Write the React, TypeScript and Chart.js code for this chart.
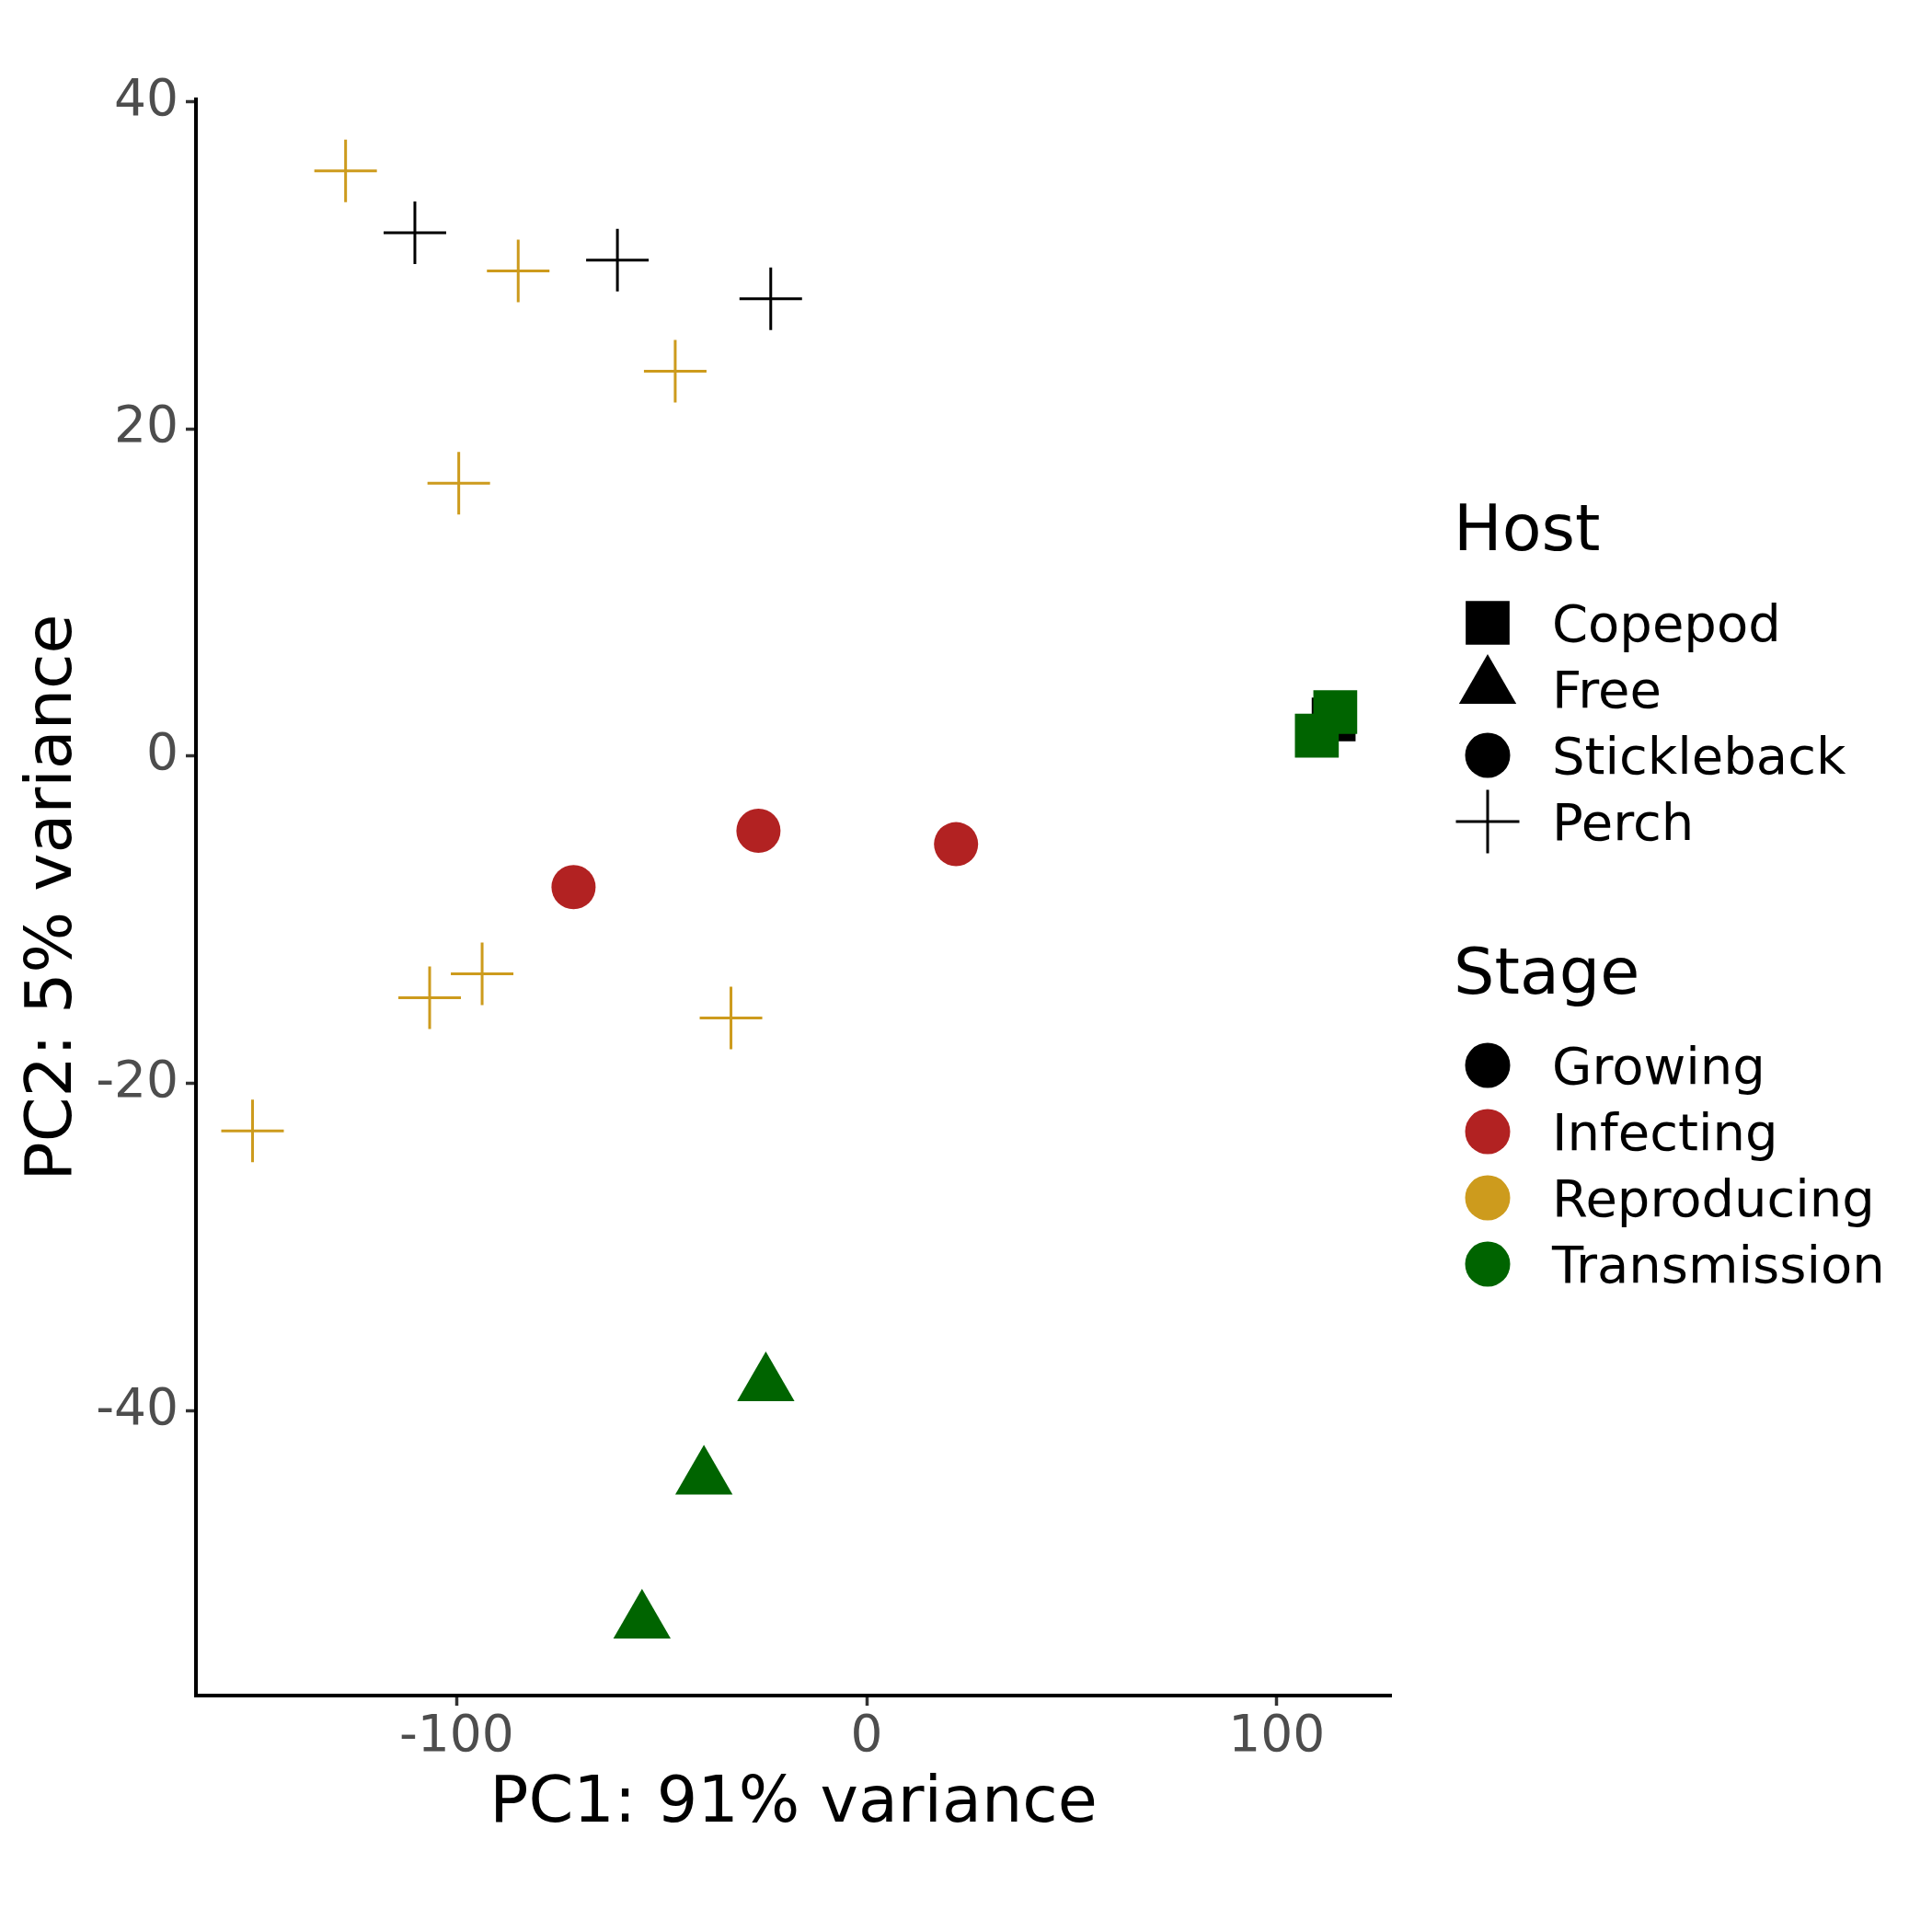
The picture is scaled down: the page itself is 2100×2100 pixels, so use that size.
import React, { useEffect, useRef } from "react";
import { Chart, registerables } from "chart.js";

Chart.register(...registerables);

// ---- Data (PC1, PC2) per Host x Stage group ----
const PERCH_REPRO_X = [-127.1, -85.0, -46.7, -99.5, -106.6, -93.8, -33.1, -149.8];
const PERCH_REPRO_Y = [35.76, 29.64, 23.52, 16.67, -14.76, -13.3, -16.0, -22.9];

const PERCH_GROW_X = [-110.2, -60.8, -23.4];
const PERCH_GROW_Y = [31.98, 30.3, 27.94];

const STICK_INF_X = [-71.5, -26.4, 21.8];
const STICK_INF_Y = [-8.0, -4.56, -5.38];

const FREE_TRANS_X = [-24.6, -39.7, -54.8];
const FREE_TRANS_Y = [-38.4, -44.1, -52.9];

const COPE_GROW_X = [113.9];
const COPE_GROW_Y = [2.24];

const COPE_TRANS_X = [114.3, 109.8];
const COPE_TRANS_Y = [2.69, 1.25];

const X_TICKS = [-100, 0, 100];
const Y_TICKS = [-40, -20, 0, 20, 40];
const X_MIN = -163.6;
const X_MAX = 127.9;
const Y_MIN = -57.4;
const Y_MAX = 40.13;

const X_TITLE = "PC1: 91% variance";
const Y_TITLE = "PC2: 5% variance";

const HOST_TITLE = "Host";
const HOST_LABELS = ["Copepod", "Free", "Stickleback", "Perch"];
const HOST_SHAPES = ["rect", "triangle", "circle", "cross"];

const STAGE_TITLE = "Stage";
const STAGE_LABELS = ["Growing", "Infecting", "Reproducing", "Transmission"];
const STAGE_COLORS = ["#000000", "#B22222", "#CD9B1D", "#006400"];

const FONT = '"DejaVu Sans", "Liberation Sans", sans-serif';

const zip = (xs: number[], ys: number[]) => xs.map((x, i) => ({ x, y: ys[i] }));

const SIZES: Record<string, number> = { rect: 33.7, triangle: 36, circle: 24, cross: 34 };

function makeSet(label: string, xs: number[], ys: number[], shape: string, color: string, order: number) {
  const isCross = shape === "cross";
  return {
    label,
    data: zip(xs, ys),
    pointStyle: shape,
    pointRadius: SIZES[shape],
    pointHoverRadius: SIZES[shape],
    pointBackgroundColor: color,
    pointBorderColor: color,
    pointBorderWidth: isCross ? 3 : 0,
    pointHoverBorderWidth: isCross ? 3 : 0,
    backgroundColor: color,
    borderColor: color,
    showLine: false,
    order,
  };
}

function drawShape(ctx: CanvasRenderingContext2D, shape: string, x: number, y: number, color: string) {
  ctx.save();
  ctx.fillStyle = color;
  ctx.strokeStyle = color;
  ctx.beginPath();
  if (shape === "rect") {
    const s = 47.7;
    ctx.rect(x - s / 2, y - s / 2, s, s);
    ctx.fill();
  } else if (shape === "triangle") {
    const r = 36;
    ctx.moveTo(x, y - r);
    ctx.lineTo(x + r * 0.866, y + r / 2);
    ctx.lineTo(x - r * 0.866, y + r / 2);
    ctx.closePath();
    ctx.fill();
  } else if (shape === "circle") {
    ctx.ellipse(x, y, 24.5, 24.5, 0, 0, Math.PI * 2);
    ctx.fill();
  } else if (shape === "cross") {
    const r = 34.5;
    ctx.lineWidth = 3;
    ctx.moveTo(x - r, y);
    ctx.lineTo(x + r, y);
    ctx.moveTo(x, y - r);
    ctx.lineTo(x, y + r);
    ctx.stroke();
  }
  ctx.restore();
}

const annotationsPlugin = {
  id: "customAnnotations",
  afterDraw(chart: any) {
    const ctx: CanvasRenderingContext2D = chart.ctx;
    const area = chart.chartArea;
    ctx.save();
    ctx.fillStyle = "#000000";
    ctx.textBaseline = "alphabetic";

    // axis titles
    ctx.font = `70px ${FONT}`;
    ctx.textAlign = "center";
    ctx.fillText(X_TITLE, (area.left + area.right) / 2, 1980);
    ctx.save();
    ctx.translate(77, (area.top + area.bottom) / 2);
    ctx.rotate(-Math.PI / 2);
    ctx.fillText(Y_TITLE, 0, 0);
    ctx.restore();

    // legend
    const keyX = 1617;
    const textX = 1687;
    const rowH = 72;
    ctx.textAlign = "left";
    ctx.font = `70px ${FONT}`;
    ctx.fillText(HOST_TITLE, 1580, 598);
    ctx.font = `56px ${FONT}`;
    HOST_LABELS.forEach((lab, i) => {
      const cy = 677 + i * rowH;
      const dy = HOST_SHAPES[i] === "triangle" ? -2 : 0;
      drawShape(ctx, HOST_SHAPES[i], keyX, cy + dy, "#000000");
      ctx.fillStyle = "#000000";
      ctx.fillText(lab, textX, cy + 20.4);
    });
    ctx.font = `70px ${FONT}`;
    ctx.fillText(STAGE_TITLE, 1580, 1079.5);
    ctx.font = `56px ${FONT}`;
    STAGE_LABELS.forEach((lab, i) => {
      const cy = 1158 + i * rowH;
      drawShape(ctx, "circle", keyX, cy, STAGE_COLORS[i]);
      ctx.fillStyle = "#000000";
      ctx.fillText(lab, textX, cy + 20.4);
    });
    ctx.restore();
  },
};

export default function App() {
  const ref = useRef<HTMLCanvasElement | null>(null);

  useEffect(() => {
    if (!ref.current) return;
    const tickFont = { family: FONT, size: 55 };
    const chart = new Chart(ref.current, {
      type: "scatter",
      data: {
        datasets: [
          makeSet("Copepod Transmission", COPE_TRANS_X, COPE_TRANS_Y, "rect", STAGE_COLORS[3], 0),
          makeSet("Copepod Growing", COPE_GROW_X, COPE_GROW_Y, "rect", STAGE_COLORS[0], 1),
          makeSet("Free Transmission", FREE_TRANS_X, FREE_TRANS_Y, "triangle", STAGE_COLORS[3], 2),
          makeSet("Stickleback Infecting", STICK_INF_X, STICK_INF_Y, "circle", STAGE_COLORS[1], 3),
          makeSet("Perch Growing", PERCH_GROW_X, PERCH_GROW_Y, "cross", STAGE_COLORS[0], 4),
          makeSet("Perch Reproducing", PERCH_REPRO_X, PERCH_REPRO_Y, "cross", STAGE_COLORS[2], 5),
        ] as any,
      },
      options: {
        animation: false,
        responsive: false,
        maintainAspectRatio: false,
        events: [],
        layout: { padding: { left: 0, top: 108, right: 2100 - 1512, bottom: 0 } },
        plugins: { legend: { display: false }, tooltip: { enabled: false } },
        scales: {
          x: {
            type: "linear",
            min: X_MIN,
            max: X_MAX,
            afterFit: (s: any) => {
              s.height = 2100 - 1843;
            },
            afterBuildTicks: (s: any) => {
              s.ticks = X_TICKS.map((v) => ({ value: v }));
            },
            grid: {
              display: true,
              drawOnChartArea: false,
              drawTicks: true,
              tickLength: 11,
              tickColor: "#333333",
              tickWidth: 3.5,
              color: "#333333",
            },
            border: { display: true, color: "#000000", width: 4 },
            ticks: {
              color: "#4D4D4D",
              font: tickFont,
              padding: 2,
              maxRotation: 0,
              autoSkip: false,
              callback: (v: any) => String(v),
            },
          },
          y: {
            type: "linear",
            min: Y_MIN,
            max: Y_MAX,
            afterFit: (s: any) => {
              s.width = 213;
            },
            afterBuildTicks: (s: any) => {
              s.ticks = Y_TICKS.map((v) => ({ value: v }));
            },
            grid: {
              display: true,
              drawOnChartArea: false,
              drawTicks: true,
              tickLength: 11,
              tickColor: "#333333",
              tickWidth: 3.5,
              color: "#333333",
            },
            border: { display: true, color: "#000000", width: 4 },
            ticks: {
              color: "#4D4D4D",
              font: tickFont,
              padding: 8,
              autoSkip: false,
              callback: (v: any) => String(v),
            },
          },
        },
      } as any,
      plugins: [annotationsPlugin],
    });
    return () => chart.destroy();
  }, []);

  return (
    <div style={{ position: "absolute", left: 0, top: 0, width: 2100, height: 2100, background: "#ffffff" }}>
      <canvas ref={ref} width={2100} height={2100} style={{ display: "block", width: 2100, height: 2100 }} />
    </div>
  );
}
